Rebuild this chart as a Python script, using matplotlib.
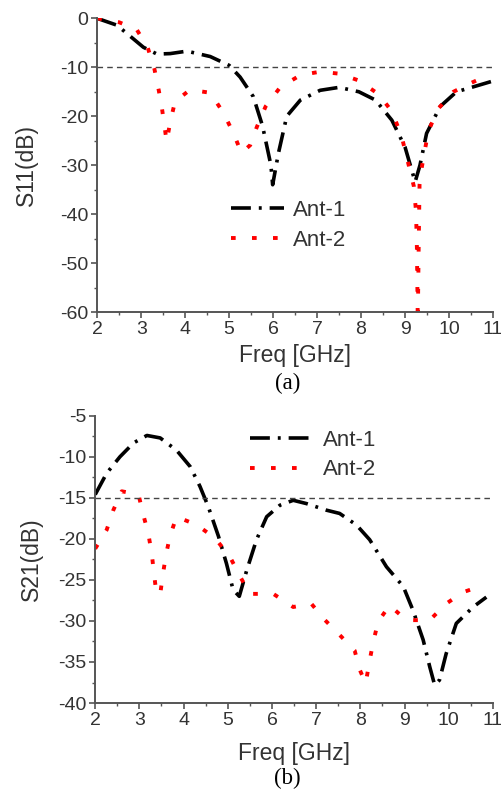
import matplotlib
matplotlib.use('Agg')
import matplotlib.pyplot as plt
from matplotlib.ticker import MultipleLocator

# S11 data (a)
s11_ant1_f = [2.0, 2.45, 3.05, 3.36, 3.66, 4.04, 4.57, 5.0, 5.25, 5.55, 5.76, 5.95, 5.99,
              6.12, 6.31, 6.62, 7.07, 7.5, 7.95, 8.33, 8.7, 9.0, 9.23, 9.34, 9.49, 9.8,
              10.17, 10.55, 11.0]
s11_ant1_db = [0.0, -1.4, -5.9, -7.3, -7.2, -6.7, -7.8, -9.6, -12.0, -16.0, -22.0, -30.0, -34.0,
               -27.6, -20.0, -16.7, -14.7, -14.1, -15.0, -16.7, -20.8, -26.3, -33.4, -30.0, -23.5, -18.0,
               -15.0, -14.0, -12.8]
s11_ant2_f = [2.0, 2.5, 2.9, 3.15, 3.3, 3.4, 3.47, 3.58, 3.66, 3.77, 4.11, 4.57, 4.87, 5.1,
              5.28, 5.48, 5.63, 5.83, 6.16, 6.62, 7.07, 7.5, 7.95, 8.4, 8.7, 8.92, 9.07, 9.2,
              9.25, 9.27, 9.29, 9.31, 9.33, 9.38, 9.53, 9.76, 10.1, 10.5, 10.8]
s11_ant2_db = [0.0, -0.8, -2.3, -6.0, -10.3, -14.7, -18.2, -25.2, -21.2, -17.0, -14.6, -15.2, -19.3, -23.5,
               -27.5, -25.9, -22.2, -18.0, -14.1, -11.6, -10.9, -11.3, -12.7, -15.5, -19.0, -24.0, -29.5, -34.3,
               -39.5, -47.0, -62.0, -47.0, -34.0, -30.5, -23.0, -18.4, -15.0, -13.2, -12.0]

# S21 data (b)
s21_ant1_f = [2.0, 2.26, 2.56, 2.87, 3.17, 3.47, 3.84, 4.15, 4.37, 4.56, 4.79, 4.97, 5.12, 5.26,
              5.43, 5.65, 5.88, 6.18, 6.48, 6.78, 7.23, 7.53, 7.91, 8.21, 8.59, 8.97, 9.19, 9.42,
              9.57, 9.68, 9.79, 9.94, 10.17, 10.55, 10.85]
s21_ant1_db = [-14.6, -12.0, -10.0, -8.3, -7.4, -7.7, -9.2, -11.2, -13.6, -16.1, -19.7, -23.0, -26.2, -27.0,
               -23.8, -20.1, -17.3, -15.9, -15.3, -15.7, -16.5, -16.9, -18.3, -20.1, -23.4, -25.8, -28.7, -32.3,
               -35.6, -37.8, -37.2, -34.0, -30.3, -28.3, -27.1]
s21_ant2_f = [2.0, 2.26, 2.41, 2.6, 2.98, 3.09, 3.2, 3.28, 3.33, 3.38, 3.47, 3.53, 3.6, 3.69, 3.84,
              4.3, 4.71, 5.05, 5.28, 5.5, 6.03, 6.48, 6.89, 7.2, 7.53, 7.87, 7.99, 8.12, 8.21, 8.29,
              8.4, 8.66, 9.04, 9.57, 9.94, 10.32, 10.81]
s21_ant2_db = [-21.2, -18.9, -16.5, -14.2, -14.6, -17.1, -19.3, -21.8, -24.2, -26.4, -26.8, -24.4, -22.0, -19.7, -17.3,
               -18.3, -19.9, -22.2, -24.6, -26.7, -26.7, -28.3, -27.9, -29.9, -31.7, -33.6, -36.0, -37.6, -34.8, -32.6,
               -30.1, -28.1, -29.9, -29.9, -27.9, -26.5, -25.6]

plt.rcParams['font.family'] = ['Liberation Sans', 'DejaVu Sans']
plt.rcParams['axes.unicode_minus'] = False
txt = '#333333'
axc = '#555555'

fig = plt.figure(figsize=(5.01, 7.98), dpi=100)
ax1 = fig.add_axes([0.194, 0.609, 0.790, 0.368])
ax2 = fig.add_axes([0.190, 0.119, 0.794, 0.360])


def style(ax, xpad):
    for s in ['top', 'right']:
        ax.spines[s].set_visible(False)
    for s in ['left', 'bottom']:
        ax.spines[s].set_color(axc)
        ax.spines[s].set_linewidth(1.4)
    ax.tick_params(which='major', direction='out', length=4.5, width=1.2, color=axc,
                   labelsize=14, labelcolor=txt, pad=2)
    ax.tick_params(which='minor', direction='out', length=2.5, width=1.0, color=axc)
    ax.set_xlim(2, 11)
    ax.xaxis.set_major_locator(MultipleLocator(1))
    ax.xaxis.set_minor_locator(MultipleLocator(0.5))
    ax.set_xlabel('Freq [GHz]', fontsize=16.5, color=txt, labelpad=xpad)


# (a) S11
ax1.plot(s11_ant1_f, s11_ant1_db, color='black', lw=2.6, dashes=(5.5, 2.2, 0.8, 2.2), label='Ant-1')
ax1.plot(s11_ant2_f, s11_ant2_db, color='red', lw=2.8, dashes=(1.2, 4.2), label='Ant-2')
ax1.axhline(-10, color='#444444', lw=1.0, dashes=(4, 3))
ax1.set_ylim(-60, 0)
ax1.yaxis.set_major_locator(MultipleLocator(10))
ax1.yaxis.set_minor_locator(MultipleLocator(5))
style(ax1, 4)
ax1.set_ylabel('S11(dB)', fontsize=16.5, color=txt, labelpad=16)
ax1.legend(loc='upper left', bbox_to_anchor=(0.316, 0.412), borderaxespad=0, frameon=False,
           fontsize=16, handlelength=2.4, handletextpad=0.36, labelspacing=0.4, labelcolor=txt)

# (b) S21
ax2.plot(s21_ant1_f, s21_ant1_db, color='black', lw=2.6, dashes=(5.5, 2.2, 0.8, 2.2), label='Ant-1')
ax2.plot(s21_ant2_f, s21_ant2_db, color='red', lw=2.8, dashes=(1.2, 4.2), label='Ant-2')
ax2.axhline(-15, color='#444444', lw=1.0, dashes=(4, 3))
ax2.set_ylim(-40, -5)
ax2.yaxis.set_major_locator(MultipleLocator(5))
ax2.yaxis.set_minor_locator(MultipleLocator(2.5))
style(ax2, 9)
ax2.set_ylabel('S21(dB)', fontsize=16.5, color=txt, labelpad=11)
ax2.legend(loc='upper left', bbox_to_anchor=(0.367, 0.983), borderaxespad=0, frameon=False,
           fontsize=16, handlelength=2.8, handletextpad=0.5, labelspacing=0.4, labelcolor=txt)

fig.text(0.574, 1 - 383 / 798, '(a)', ha='center', va='center', fontsize=16.5,
         family='Liberation Serif', color='black')
fig.text(0.574, 1 - 778 / 798, '(b)', ha='center', va='center', fontsize=16.5,
         family='Liberation Serif', color='black')

fig.savefig('out.png', dpi=100)
